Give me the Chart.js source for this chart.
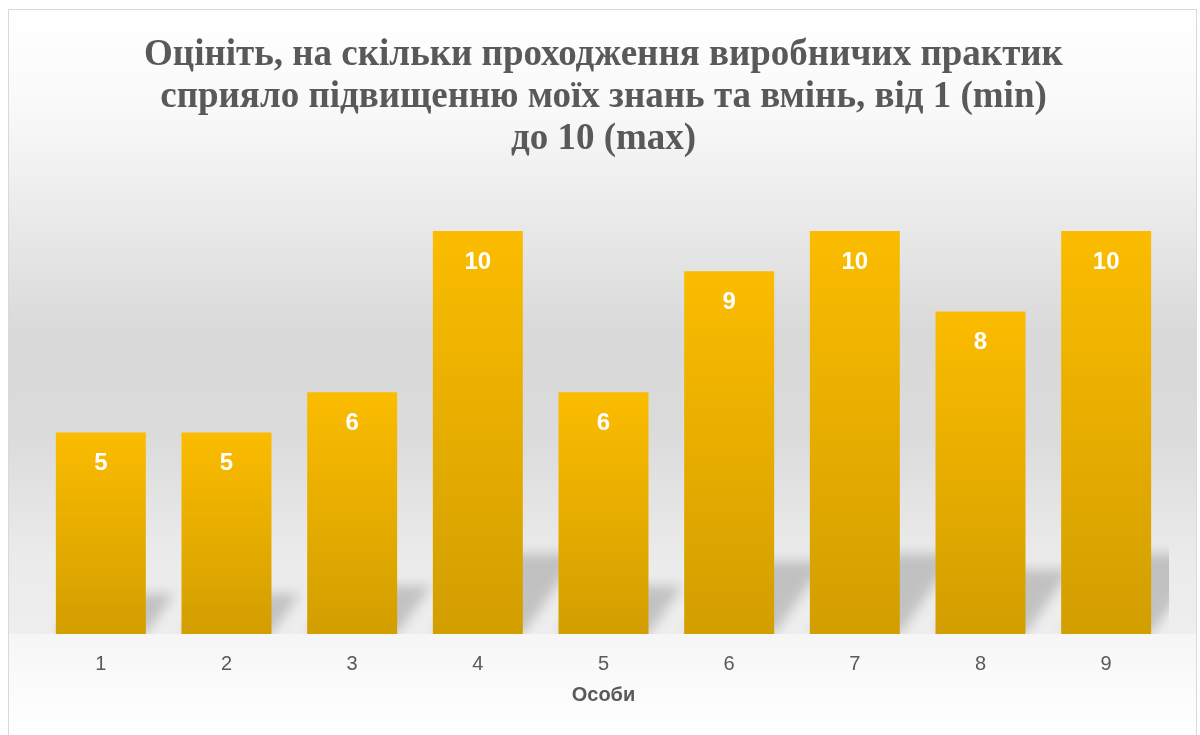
<!DOCTYPE html>
<html>
<head>
<meta charset="utf-8">
<script src="https://cdn.jsdelivr.net/npm/chart.js@4.4.1/dist/chart.umd.min.js"></script>
<style>
  html, body { margin: 0; padding: 0; background: #ffffff; }
  #wrap { width: 1200px; height: 735px; position: relative; }
</style>
</head>
<body>
<div id="wrap"><canvas id="barChart" width="1200" height="735"></canvas></div>
<script>
const titleLines = [
  'Оцініть, на скільки проходження виробничих практик',
  'сприяло підвищенню моїх знань та вмінь, від 1 (min)',
  'до 10 (max)'
];
const persons = ['1', '2', '3', '4', '5', '6', '7', '8', '9'];
const scores = [5, 5, 6, 10, 6, 9, 10, 8, 10];
const axisTitle = 'Особи';

// фон діаграми + рамка
const backgroundPlugin = {
  id: 'bgPlugin',
  beforeDraw(chart) {
    const ctx = chart.ctx;
    const base = chart.chartArea.bottom;
    ctx.save();
    const g = ctx.createLinearGradient(0, 9, 0, base);
    g.addColorStop(0, '#ffffff');
    g.addColorStop(0.16, '#f9f9f9');
    g.addColorStop(0.3, '#ededed');
    g.addColorStop(0.52, '#d9d9d9');
    g.addColorStop(0.68, '#dbdbdb');
    g.addColorStop(0.88, '#ebebeb');
    g.addColorStop(1, '#eeeeee');
    ctx.fillStyle = g;
    ctx.fillRect(8, 9, 1189, base - 9);
    const g2 = ctx.createLinearGradient(0, base, 0, 734);
    g2.addColorStop(0, '#f6f6f6');
    g2.addColorStop(1, '#ffffff');
    ctx.fillStyle = g2;
    ctx.fillRect(8, base, 1189, 734 - base);
    ctx.strokeStyle = '#d9d9d9';
    ctx.lineWidth = 1;
    ctx.strokeRect(8.5, 9.5, 1188, 726);
    ctx.restore();
  }
};

// тіні від стовпців на "підлозі"
const shadowPlugin = {
  id: 'shadowPlugin',
  beforeDatasetsDraw(chart) {
    const ctx = chart.ctx;
    const area = chart.chartArea;
    const meta = chart.getDatasetMeta(0);
    ctx.save();
    ctx.beginPath();
    ctx.rect(area.left, area.top, area.right - area.left, area.bottom - area.top);
    ctx.clip();
    ctx.filter = 'blur(6px)';
    ctx.fillStyle = 'rgba(0,0,0,0.18)';
    meta.data.forEach(bar => {
      const h = bar.base - bar.y;
      const dy = Math.min(h * 0.2, 80);
      const dx = dy * 0.7;
      const left = bar.x - bar.width / 2;
      const right = bar.x + bar.width / 2;
      ctx.beginPath();
      ctx.moveTo(left, bar.base);
      ctx.lineTo(right, bar.base);
      ctx.lineTo(right + dx, bar.base - dy);
      ctx.lineTo(left + dx, bar.base - dy);
      ctx.closePath();
      ctx.fill();
    });
    ctx.restore();
  }
};

// підписи значень всередині стовпців
const labelsPlugin = {
  id: 'valueLabels',
  afterDatasetsDraw(chart) {
    const ctx = chart.ctx;
    const meta = chart.getDatasetMeta(0);
    ctx.save();
    ctx.fillStyle = '#ffffff';
    ctx.font = 'bold 24px "Liberation Sans", Arial, sans-serif';
    ctx.textAlign = 'center';
    ctx.textBaseline = 'middle';
    meta.data.forEach((bar, i) => {
      ctx.fillText(String(scores[i]), bar.x, bar.y + 31);
    });
    ctx.restore();
  }
};

const ctx = document.getElementById('barChart').getContext('2d');
new Chart(ctx, {
  type: 'bar',
  data: {
    labels: persons,
    datasets: [{
      data: scores,
      backgroundColor: function(context) {
        const chart = context.chart;
        const area = chart.chartArea;
        if (!area || context.dataIndex === undefined) return '#e8ad00';
        const yScale = chart.scales.y;
        const top = yScale.getPixelForValue(scores[context.dataIndex]);
        const bottom = yScale.getPixelForValue(0);
        const g = chart.ctx.createLinearGradient(0, top, 0, bottom);
        g.addColorStop(0, '#fbbc00');
        g.addColorStop(1, '#d29e00');
        return g;
      },
      borderWidth: 0,
      barPercentage: 0.716,
      categoryPercentage: 1
    }]
  },
  options: {
    responsive: false,
    animation: false,
    layout: {
      padding: { left: 38, right: 31, top: 0, bottom: 28 }
    },
    plugins: {
      legend: { display: false },
      tooltip: { enabled: false },
      title: {
        display: true,
        text: titleLines,
        color: '#595959',
        font: { family: '"Liberation Serif", "Times New Roman", serif', size: 37, weight: 'bold', lineHeight: 1.135 },
        padding: { top: 34, bottom: 71 }
      }
    },
    scales: {
      x: {
        grid: { display: false, drawTicks: false },
        border: { display: false },
        ticks: {
          color: '#595959',
          padding: 18,
          font: { family: '"Liberation Sans", Arial, sans-serif', size: 20 }
        },
        title: {
          display: true,
          text: axisTitle,
          color: '#595959',
          padding: { top: -11, bottom: 0 },
          font: { family: '"Liberation Sans", Arial, sans-serif', size: 20, weight: 'bold' }
        }
      },
      y: {
        display: false,
        min: 0,
        max: 10
      }
    }
  },
  plugins: [backgroundPlugin, shadowPlugin, labelsPlugin]
});
</script>
</body>
</html>
